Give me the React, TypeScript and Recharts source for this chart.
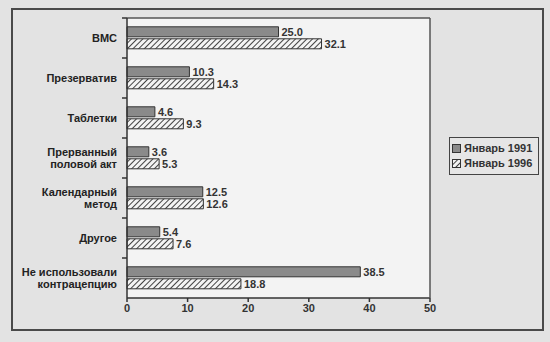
import { Bar, BarChart, CartesianGrid, LabelList, XAxis, YAxis } from "recharts";

const categories = [
  "ВМС",
  "Презерватив",
  "Таблетки",
  "Прерванный\nполовой акт",
  "Календарный\nметод",
  "Другое",
  "Не использовали\nконтрацепцию",
];
const jan1991 = [25.0, 10.3, 4.6, 3.6, 12.5, 5.4, 38.5];
const jan1996 = [32.1, 14.3, 9.3, 5.3, 12.6, 7.6, 18.8];
const xTicks = [0, 10, 20, 30, 40, 50];

const data = categories.map((name, i) => ({ name, y1991: jan1991[i], y1996: jan1996[i] }));

const ink = "#333333";
const font = "'Liberation Sans', Arial, sans-serif";

const CategoryTick = ({ x, y, payload }: any) => {
  const lines: string[] = String(payload.value).split("\n");
  const start = y - ((lines.length - 1) * 12) / 2;
  return (
    <g>
      <line x1={x + 3} x2={x + 8} y1={y - 20} y2={y - 20} stroke={ink} strokeWidth={1.5} />
      <text
        x={x - 2}
        y={start}
        textAnchor="end"
        dominantBaseline="central"
        fill="#222"
        fontFamily={font}
        fontSize={11}
        fontWeight={700}
      >
        {lines.map((l, i) => (
          <tspan key={i} x={x - 2} dy={i === 0 ? 0 : 12}>
            {l}
          </tspan>
        ))}
      </text>
    </g>
  );
};

const LegendBox = () => (
  <div
    style={{
      position: "absolute",
      left: 449,
      top: 137,
      border: "1.5px solid #444",
      background: "#e6e6e6",
      width: 84,
      padding: "3px 2px",
      fontFamily: font,
      fontSize: 11,
      fontWeight: 700,
      color: ink,
      lineHeight: "15px",
    }}
  >
    <div style={{ display: "flex", alignItems: "center" }}>
      <span style={{ width: 7, height: 7, border: "1px solid #333", background: "#8a8a8a", marginRight: 3 }} />
      Январь 1991
    </div>
    <div style={{ display: "flex", alignItems: "center" }}>
      <svg width={9} height={9} style={{ marginRight: 3 }}>
        <rect x={0.5} y={0.5} width={8} height={8} fill="url(#hatch)" stroke="#333" />
      </svg>
      Январь 1996
    </div>
  </div>
);

export default function App() {
  return (
    <div style={{ position: "absolute", left: 0, top: 0, width: 550, height: 342, background: "#e3e3e3" }}>
      <div
        style={{
          position: "absolute",
          left: 11,
          top: 8,
          width: 529,
          height: 319,
          border: "2px solid #4a4a4a",
        }}
      />
      <BarChart
        width={550}
        height={342}
        data={data}
        layout="vertical"
        margin={{ top: 17, right: 119, bottom: 14, left: 0 }}
        barCategoryGap="22%"
        barGap={2}
      >
        <defs>
          <pattern id="hatch" width={4} height={4} patternUnits="userSpaceOnUse" patternTransform="rotate(45)">
            <rect width={4} height={4} fill="#f4f4f4" />
            <line x1={0} y1={0} x2={0} y2={4} stroke="#222" strokeWidth={1.7} />
          </pattern>
        </defs>
        <CartesianGrid fill="#f3f3f3" fillOpacity={1} horizontal={false} vertical={false} />
        <XAxis
          type="number"
          domain={[0, 50]}
          ticks={xTicks}
          height={30}
          stroke={ink}
          strokeWidth={1.5}
          tickSize={4}
          tick={{ fill: ink, fontFamily: font, fontSize: 11, fontWeight: 700 }}
        />
        <XAxis
          xAxisId="top"
          orientation="top"
          type="number"
          domain={[0, 50]}
          height={1}
          tick={false}
          tickLine={false}
          axisLine={{ stroke: "#555", strokeWidth: 1.5 }}
        />
        <YAxis
          type="category"
          dataKey="name"
          width={127}
          stroke={ink}
          strokeWidth={1.5}
          tickSize={0}
          tickMargin={8}
          interval={0}
          tick={<CategoryTick />}
        />
        <YAxis
          yAxisId="right"
          orientation="right"
          type="category"
          dataKey="name"
          width={1}
          tick={false}
          tickLine={false}
          axisLine={{ stroke: "#555", strokeWidth: 1.5 }}
        />
        <Bar dataKey="y1991" name="Январь 1991" fill="#8a8a8a" stroke="#333" strokeWidth={1} isAnimationActive={false}>
          <LabelList
            dataKey="y1991"
            position="right"
            offset={3}
            formatter={(v: any) => Number(v).toFixed(1)}
            style={{ fill: ink, fontFamily: font, fontSize: 11, fontWeight: 700 }}
          />
        </Bar>
        <Bar dataKey="y1996" name="Январь 1996" fill="url(#hatch)" stroke="#333" strokeWidth={1} isAnimationActive={false}>
          <LabelList
            dataKey="y1996"
            position="right"
            offset={3}
            formatter={(v: any) => Number(v).toFixed(1)}
            style={{ fill: ink, fontFamily: font, fontSize: 11, fontWeight: 700 }}
          />
        </Bar>
      </BarChart>
      <LegendBox />
    </div>
  );
}
